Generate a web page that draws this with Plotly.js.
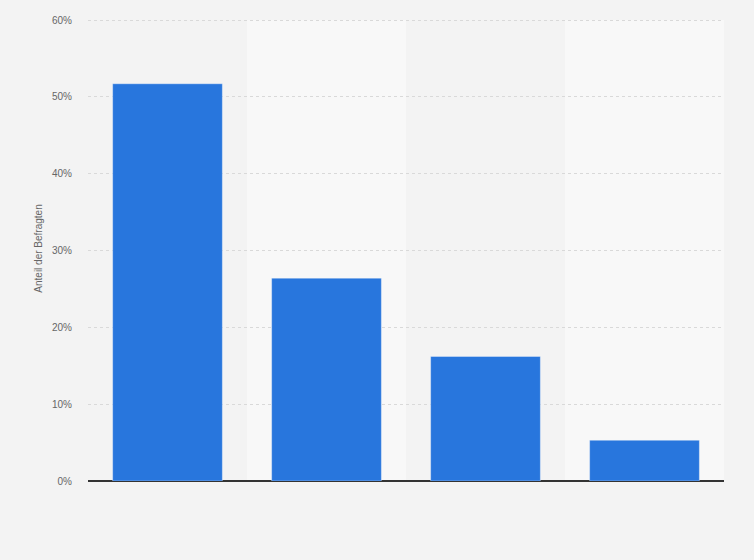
<!DOCTYPE html>
<html>
<head>
<meta charset="utf-8">
<script src="https://cdn.plot.ly/plotly-3.0.1.min.js"></script>
<style>
  html, body { margin: 0; padding: 0; background: #f3f3f3; }
  #chart { width: 754px; height: 560px; }
</style>
</head>
<body>
<div id="chart"></div>
<script>
var categories = ['Antwort 1', 'Antwort 2', 'Antwort 3', 'Antwort 4'];
var values = [51.7, 26.4, 16.2, 5.3];
var tickValues = [0, 10, 20, 30, 40, 50, 60];
var tickLabels = ['0%', '10%', '20%', '30%', '40%', '50%', '60%'];

// lighter band behind every second category
var bands = [];
for (var i = 1; i < categories.length; i += 2) {
    bands.push({
        type: 'rect', layer: 'below',
        xref: 'x', yref: 'y',
        x0: i - 0.5, x1: i + 0.5, y0: 0, y1: 60,
        fillcolor: '#f8f8f8', line: {width: 0}
    });
}

var trace = {
    x: categories,
    y: values,
    type: 'bar',
    marker: {color: '#2876dd', line: {color: 'rgba(255,255,255,0.35)', width: 1}},
    hoverinfo: 'none'
};

var layout = {
    width: 754,
    height: 560,
    paper_bgcolor: '#f3f3f3',
    plot_bgcolor: '#f3f3f3',
    margin: {l: 88, r: 30, t: 16, b: 79},
    bargap: 0.31,
    showlegend: false,
    font: {family: 'Liberation Sans, Arial, sans-serif', color: '#666', size: 10},
    shapes: bands,
    xaxis: {
        showticklabels: false,
        showgrid: false,
        zeroline: false,
        fixedrange: true
    },
    yaxis: {
        range: [0, 60.52],
        tickvals: tickValues,
        ticktext: tickLabels,
        ticklabelstandoff: 15,
        showgrid: true,
        gridcolor: '#d9d9d9',
        griddash: 'dot',
        gridwidth: 1,
        zeroline: true,
        zerolinecolor: '#333',
        zerolinewidth: 1.5,
        title: {text: 'Anteil der Befragten', font: {size: 10, color: '#666'}, standoff: 7},
        fixedrange: true
    }
};

Plotly.newPlot('chart', [trace], layout, {displayModeBar: false, staticPlot: true});
</script>
</body>
</html>
